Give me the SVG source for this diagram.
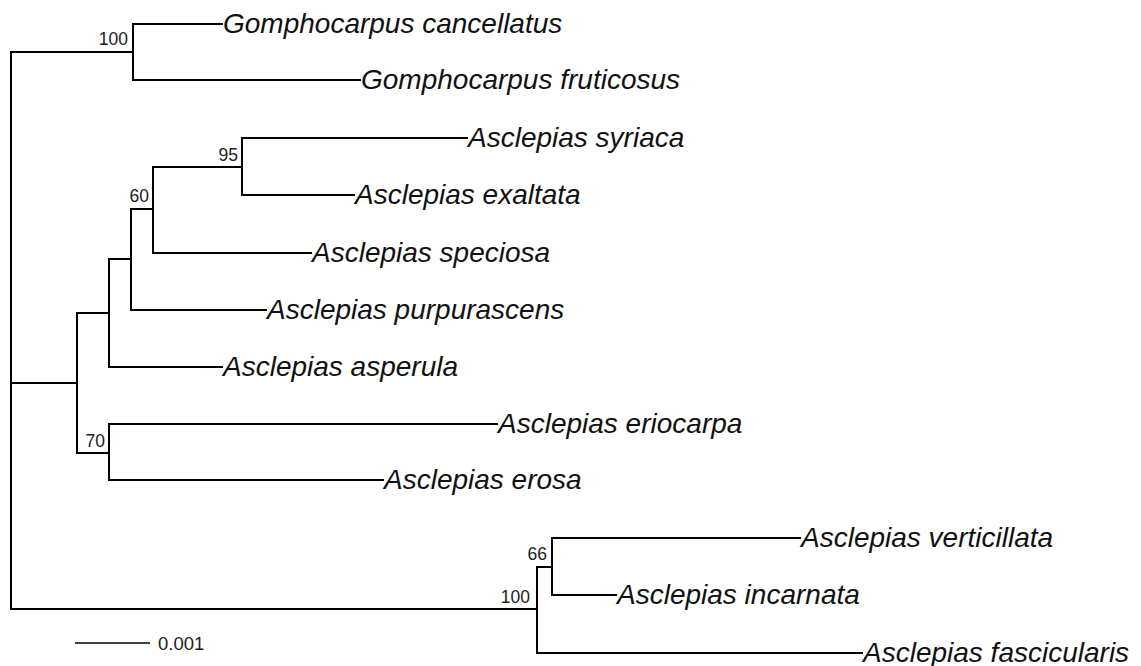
<svg xmlns="http://www.w3.org/2000/svg" width="1141" height="666" viewBox="0 0 1141 666">
<style>
.br{fill:none;stroke:#000;stroke-width:2;stroke-linecap:square}
.tx{font-family:"Liberation Sans",Arial,sans-serif;font-style:italic;font-size:28px;fill:#111}
.bs{font-family:"Liberation Sans",Arial,sans-serif;font-size:17.5px;fill:#222;text-anchor:end}
.sc{font-family:"Liberation Sans",Arial,sans-serif;font-size:18.5px;fill:#222}
</style>
<rect width="1141" height="666" fill="#fff"/>
<g id="connectors">
<path class="br" d="M11,52 V609"/>
<path class="br" d="M11,52 H133 M133,24 V80 M133,24 H222 M133,80 H360"/>
<path class="br" d="M11,383 H77 M77,313 V453"/>
<path class="br" d="M77,313 H109 M109,259 V367 M109,367 H222"/>
<path class="br" d="M109,259 H131 M131,209 V310 M131,310 H266"/>
<path class="br" d="M131,209 H153 M153,167 V253 M153,253 H311"/>
<path class="br" d="M153,167 H242 M242,138 V195 M242,138 H467 M242,195 H354"/>
<path class="br" d="M77,453 H109 M109,424 V480 M109,424 H497 M109,480 H383"/>
<path class="br" d="M11,609 H537 M537,567 V653 M537,653 H862"/>
<path class="br" d="M537,567 H552 M552,538 V595 M552,538 H800 M552,595 H616"/>
<path d="M75,643 H150" stroke="#000" stroke-width="1.3"/>
</g>
<g id="support">
<text class="bs" x="128" y="45">100</text>
<text class="bs" x="238" y="161">95</text>
<text class="bs" x="149" y="202">60</text>
<text class="bs" x="105" y="447">70</text>
<text class="bs" x="547" y="560">66</text>
<text class="bs" x="530" y="603">100</text>
</g>
<g id="scale"><text class="sc" x="158" y="650">0.001</text></g>
<g id="n-gcan"><text class="tx" x="223" y="33">Gomphocarpus cancellatus</text></g>
<g id="n-gfru"><text class="tx" x="361" y="89">Gomphocarpus fruticosus</text></g>
<g id="n-asyr"><text class="tx" x="468" y="147">Asclepias syriaca</text></g>
<g id="n-aexa"><text class="tx" x="355" y="204">Asclepias exaltata</text></g>
<g id="n-aspe"><text class="tx" x="312" y="262">Asclepias speciosa</text></g>
<g id="n-apur"><text class="tx" x="267" y="319">Asclepias purpurascens</text></g>
<g id="n-aasp"><text class="tx" x="223" y="376">Asclepias asperula</text></g>
<g id="n-aeri"><text class="tx" x="498" y="433">Asclepias eriocarpa</text></g>
<g id="n-aero"><text class="tx" x="384" y="489">Asclepias erosa</text></g>
<g id="n-aver"><text class="tx" x="801" y="547">Asclepias verticillata</text></g>
<g id="n-ainc"><text class="tx" x="617" y="604">Asclepias incarnata</text></g>
<g id="n-afas"><text class="tx" x="863" y="662">Asclepias fascicularis</text></g>
</svg>
